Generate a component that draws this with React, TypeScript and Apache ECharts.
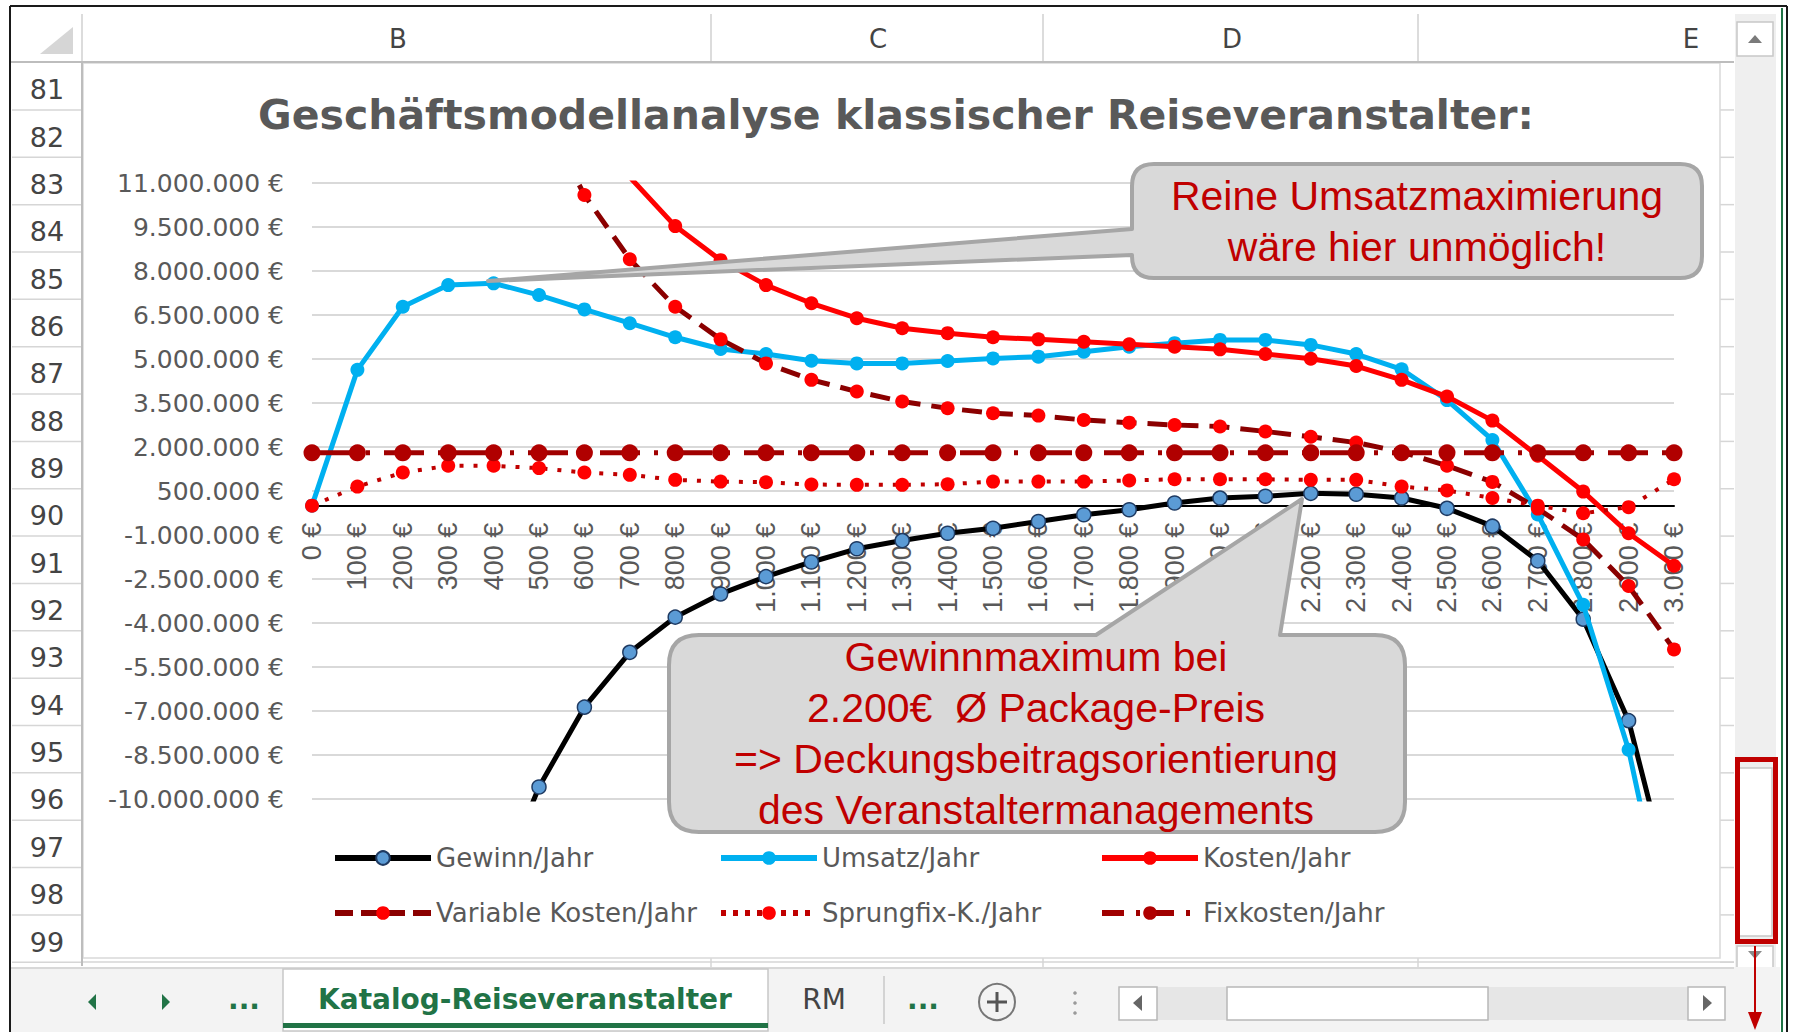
import React, { useEffect, useRef } from 'react';
import * as echarts from 'echarts';

// ---------- data ----------
const priceLabels = [
  '0 €', '100 €', '200 €', '300 €', '400 €', '500 €', '600 €', '700 €', '800 €', '900 €',
  '1.000 €', '1.100 €', '1.200 €', '1.300 €', '1.400 €', '1.500 €', '1.600 €', '1.700 €', '1.800 €', '1.900 €',
  '2.000 €', '2.100 €', '2.200 €', '2.300 €', '2.400 €', '2.500 €', '2.600 €', '2.700 €', '2.800 €', '2.900 €',
  '3.000 €',
];

const yTickValues = [
  -10000000, -8500000, -7000000, -5500000, -4000000, -2500000, -1000000, 500000,
  2000000, 3500000, 5000000, 6500000, 8000000, 9500000, 11000000,
];

const gewinn = [
  null, -41500000, -28100000, -19300000, -13400000, -9590000, -6870000, -5000000, -3800000, -3010000,
  -2420000, -1920000, -1470000, -1190000, -940000, -770000, -540000, -310000, -140000, 90000,
  260000, 320000, 420000, 390000, 260000, -90000, -700000, -1880000, -3870000, -7330000,
  -13400000,
];
const umsatz = [
  0, 4630000, 6780000, 7520000, 7580000, 7180000, 6690000, 6220000, 5740000, 5340000,
  5170000, 4940000, 4850000, 4850000, 4930000, 5020000, 5080000, 5250000, 5420000, 5540000,
  5650000, 5650000, 5480000, 5170000, 4650000, 3600000, 2240000, -300000, -3380000, -8320000,
  -15500000,
];
const kosten = [
  null, 46100000, 34900000, 26900000, 21100000, 16600000, 13660000, 11200000, 9530000, 8370000,
  7520000, 6900000, 6390000, 6050000, 5880000, 5740000, 5670000, 5590000, 5500000, 5420000,
  5330000, 5170000, 5010000, 4760000, 4290000, 3720000, 2900000, 1700000, 480000, -940000,
  -2050000,
];
const variableKosten = [
  null, 43700000, 32000000, 23700000, 17900000, 13600000, 10590000, 8400000, 6780000, 5670000,
  4850000, 4290000, 3890000, 3550000, 3320000, 3150000, 3070000, 2920000, 2830000, 2750000,
  2700000, 2530000, 2350000, 2150000, 1830000, 1360000, 810000, -100000, -1150000, -2740000,
  -4900000,
];
const sprungfixKosten = [
  0, 650000, 1130000, 1360000, 1360000, 1280000, 1130000, 1050000, 880000, 820000,
  800000, 720000, 710000, 710000, 730000, 820000, 820000, 820000, 860000, 900000,
  900000, 900000, 880000, 880000, 650000, 520000, 260000, 0, -260000, -50000,
  900000,
];
const fixkosten = [
  1800000, 1800000, 1800000, 1800000, 1800000, 1800000, 1800000, 1800000, 1800000, 1800000,
  1800000, 1800000, 1800000, 1800000, 1800000, 1800000, 1800000, 1800000, 1800000, 1800000,
  1800000, 1800000, 1800000, 1800000, 1800000, 1800000, 1800000, 1800000, 1800000, 1800000,
  1800000,
];

const seriesNames = [
  'Gewinn/Jahr', 'Umsatz/Jahr', 'Kosten/Jahr',
  'Variable Kosten/Jahr', 'Sprungfix-K./Jahr', 'Fixkosten/Jahr',
];
const seriesData = [gewinn, umsatz, kosten, variableKosten, sprungfixKosten, fixkosten];

const titleText = 'Geschäftsmodellanalyse klassischer Reiseveranstalter:';
const calloutTopLines = ['Reine Umsatzmaximierung', 'wäre hier unmöglich!'];
const calloutBottomLines = [
  'Gewinnmaximum bei',
  '2.200€  Ø Package-Preis',
  '=> Deckungsbeitragsorientierung',
  'des Veranstaltermanagements',
];
const rowNumbers = ['81', '82', '83', '84', '85', '86', '87', '88', '89', '90', '91', '92', '93', '94', '95', '96', '97', '98', '99'];
const columnLetters = ['B', 'C', 'D', 'E'];
const sheetTabs = ['Katalog-Reiseveranstalter', 'RM'];

// ---------- layout / styles ----------
const W = 1795;
const H = 1032;
const FONT = '"DejaVu Sans", sans-serif';
const AXIS_GRAY = '#595959';
const HEAD_GRAY = '#444444';
const CALLOUT_RED = '#c00000';
const EXCEL_GREEN = '#217346';

const GRID_TOP = 183;
const GRID_BOTTOM_Y = 799;
const Y_MIN = -10000000;
const Y_MAX = 11000000;
// move the category axis (line + labels) from the grid bottom up to the value 0
const ZERO_OFFSET = -((GRID_BOTTOM_Y - GRID_TOP) * (0 - Y_MIN)) / (Y_MAX - Y_MIN);

const seriesStyles: any[] = [
  { line: '#000000', dash: 'solid', width: 5, marker: '#5b9bd5', border: '#1f3b63', bw: 1.5, size: 14 },
  { line: '#00b0f0', dash: 'solid', width: 5, marker: '#00b0f0', border: '#00b0f0', bw: 0, size: 14 },
  { line: '#ff0000', dash: 'solid', width: 5, marker: '#ff0000', border: '#ff0000', bw: 0, size: 14 },
  { line: '#8b0000', dash: [20, 11], width: 5, marker: '#ff0000', border: '#ff0000', bw: 0, size: 14 },
  { line: '#c00000', dash: [4, 10], width: 4, marker: '#ff0000', border: '#ff0000', bw: 0, size: 14 },
  { line: '#a00000', dash: [40, 14, 4, 14], width: 5, marker: '#b00000', border: '#b00000', bw: 0, size: 17 },
];
const legendDash: any[] = ['solid', 'solid', 'solid', [18, 8], [5, 7], [22, 12, 4, 12]];

const legendColX = [332, 718, 1099];
const legendRowY = [845, 900];

const CALLOUT_TOP_D =
  'M 1154 164 L 1680 164 Q 1702 164 1702 186 L 1702 256 Q 1702 278 1680 278 L 1154 278 ' +
  'Q 1132 278 1132 256 L 1132 255 L 488 281 L 1132 229 L 1132 186 Q 1132 164 1154 164 Z';
const CALLOUT_BOTTOM_D =
  'M 699 635 L 1096 635 L 1302 499 L 1280 635 L 1375 635 Q 1405 635 1405 665 L 1405 802 ' +
  'Q 1405 832 1375 832 L 699 832 Q 669 832 669 802 L 669 665 Q 669 635 699 635 Z';

function formatEuro(v: number) {
  const s = Math.round(Math.abs(v)).toString().replace(/\B(?=(\d{3})+(?!\d))/g, '.');
  return (v < 0 ? '-' : '') + s + ' €';
}

function buildGraphics() {
  const g: any[] = [];
  const L = (x1: number, y1: number, x2: number, y2: number, stroke: string, lw = 1.5, z = -5) =>
    g.push({ type: 'line', z, silent: true, shape: { x1, y1, x2, y2 }, style: { stroke, lineWidth: lw } });
  const R = (x: number, y: number, w: number, h: number, fill: string, stroke = 'none', lw = 1.5, z = -5, r = 0) =>
    g.push({ type: 'rect', z, silent: true, shape: { x, y, width: w, height: h, r }, style: { fill, stroke, lineWidth: lw } });
  const P = (points: number[][], fill: string, z = -4) =>
    g.push({ type: 'polygon', z, silent: true, shape: { points }, style: { fill } });
  const T = (x: number, y: number, text: string, font: string, fill: string, z = -4, align = 'center') =>
    g.push({
      type: 'text', z, silent: true, x, y,
      style: { text, font, fill, align, verticalAlign: 'middle', textAlign: align, textVerticalAlign: 'middle' },
    });

  // sheet cells right of chart / below chart
  for (let j = 1; j <= 19; j++) {
    const y = 62.6 + 47.35 * j;
    L(12, y, 82, y, '#d6d6d6', 1.5);
    L(1720, y, 1734, y, '#d6d6d6', 1.5);
  }
  L(82, 962, 1734, 962, '#d6d6d6', 1.5);
  L(711, 956, 711, 967, '#d6d6d6', 1.5);
  L(1043, 956, 1043, 967, '#d6d6d6', 1.5);
  L(1418, 956, 1418, 967, '#d6d6d6', 1.5);

  // chart area
  R(83, 63, 1637, 895, '#ffffff', '#d9d9d9', 1.5, -5);

  // column header
  P([[73, 27], [73, 54], [40, 54]], '#d6d6d6');
  [82, 711, 1043, 1418].forEach((x) => L(x, 14, x, 62, '#d0d0d0', 1.5));
  L(10, 62, 1734, 62, '#bdbdbd', 2);
  const colX = [398, 878, 1232, 1691];
  columnLetters.forEach((c, i) => T(colX[i], 39, c, '26px ' + FONT, HEAD_GRAY));

  // row header
  L(82, 62, 82, 966, '#bdbdbd', 2);
  rowNumbers.forEach((r, j) => T(47, 89.7 + 47.35 * j, r, '27px ' + FONT, HEAD_GRAY));

  // vertical scrollbar
  R(1735, 14, 41, 955, '#efefef', 'none', 0);
  R(1737, 22, 36, 34, '#ffffff', '#c8c8c8', 1.5);
  P([[1748, 43], [1762, 43], [1755, 35]], '#7a7a7a');
  R(1739, 768, 33, 168, '#ffffff', '#c8c8c8', 1.5);
  R(1737, 946, 36, 24, '#ffffff', '#c8c8c8', 1.5);
  P([[1748, 951], [1762, 951], [1755, 959]], '#8a8a8a');
  R(1737.5, 759.5, 38, 182, 'none', CALLOUT_RED, 5, -3);
  L(1755, 946, 1755, 1016, CALLOUT_RED, 2, -3);
  P([[1748, 1012], [1762, 1012], [1755, 1030]], CALLOUT_RED, -3);

  // tab bar
  R(11, 967, 1769, 66, '#f3f3f3', 'none', 0);
  L(10, 968, 1734, 968, '#cfcfcf', 1.5);
  R(283, 969, 485, 62, '#ffffff', '#c8c8c8', 1.5);
  R(283, 1023, 485, 5, EXCEL_GREEN, 'none', 0);
  P([[88, 1002], [96, 994], [96, 1010]], EXCEL_GREEN);
  P([[170, 1002], [162, 994], [162, 1010]], EXCEL_GREEN);
  T(244, 999, '...', 'bold 28px ' + FONT, EXCEL_GREEN);
  T(525, 999, sheetTabs[0], 'bold 28px ' + FONT, EXCEL_GREEN);
  T(824, 999, sheetTabs[1], '28px ' + FONT, HEAD_GRAY);
  L(884, 976, 884, 1024, '#c8c8c8', 1.5);
  T(923, 999, '...', 'bold 28px ' + FONT, EXCEL_GREEN);
  g.push({ type: 'circle', z: -4, silent: true, shape: { cx: 997, cy: 1002, r: 18 }, style: { fill: '#f3f3f3', stroke: '#777777', lineWidth: 2 } });
  L(987, 1002, 1007, 1002, '#555555', 3, -3);
  L(997, 992, 997, 1012, '#555555', 3, -3);
  [993, 1003, 1013].forEach((y) =>
    g.push({ type: 'circle', z: -4, silent: true, shape: { cx: 1075, cy: y, r: 1.8 }, style: { fill: '#9a9a9a' } }));
  R(1119, 987, 606, 33, '#e6e6e6', 'none', 0);
  R(1119, 987, 38, 33, '#ffffff', '#b8b8b8', 1.5);
  P([[1133, 1003], [1142, 995], [1142, 1011]], '#666666');
  R(1227, 987, 261, 33, '#ffffff', '#b8b8b8', 1.5);
  R(1688, 987, 37, 33, '#ffffff', '#b8b8b8', 1.5);
  P([[1712, 1003], [1703, 995], [1703, 1011]], '#666666');

  // window border
  L(10, 6, 10, 1032, '#1a1a1a', 2, -2);
  L(10, 6, 1787, 6, '#1a1a1a', 2, -2);
  L(1787, 6, 1787, 1032, '#1a1a1a', 2, -2);
  L(1782, 8, 1782, 1032, EXCEL_GREEN, 2, -2);

  // chart title
  T(896, 115, titleText, 'bold 41px ' + FONT, AXIS_GRAY, 5);

  // callouts
  const calloutStyle = { fill: '#d9d9d9', stroke: '#a6a6a6', lineWidth: 4, lineJoin: 'round' };
  g.push({ type: 'calloutTop', z: 50, silent: true, shape: {}, style: calloutStyle });
  g.push({ type: 'calloutBottom', z: 50, silent: true, shape: {}, style: calloutStyle });
  const cFont = '41px "Liberation Sans", Arial, sans-serif';
  calloutTopLines.forEach((t, i) => T(1417, 196 + 51 * i, t, cFont, CALLOUT_RED, 51));
  calloutBottomLines.forEach((t, i) => T(1036, 657 + 51 * i, t, cFont, CALLOUT_RED, 51));

  return g;
}

function buildOption() {
  return {
    animation: false,
    textStyle: { fontFamily: FONT },
    grid: { left: 312, right: 121, top: GRID_TOP, bottom: H - GRID_BOTTOM_Y, containLabel: false, outerBoundsMode: 'none' },
    xAxis: {
      type: 'category',
      data: priceLabels,
      boundaryGap: false,
      position: 'bottom',
      offset: ZERO_OFFSET,
      axisLine: { onZero: false, lineStyle: { color: '#000000', width: 2 } },
      axisTick: { show: false },
      splitLine: { show: false },
      axisLabel: {
        rotate: 90,
        interval: 0,
        color: AXIS_GRAY,
        fontFamily: '"Liberation Sans Narrow", "Liberation Sans", sans-serif',
        fontSize: 27,
        margin: 17,
      },
    },
    yAxis: {
      type: 'value',
      min: Y_MIN,
      max: Y_MAX,
      axisLine: { show: false },
      axisTick: { show: false, customValues: yTickValues },
      axisLabel: {
        customValues: yTickValues,
        formatter: (v: number) => formatEuro(v),
        color: AXIS_GRAY,
        fontFamily: FONT,
        fontSize: 25,
        margin: 28,
      },
      splitLine: { show: true, lineStyle: { color: '#d9d9d9', width: 2 } },
    },
    legend: seriesNames.map((name, k) => ({
      data: [name],
      left: legendColX[k % 3],
      top: legendRowY[Math.floor(k / 3)],
      padding: 0,
      itemWidth: 96,
      itemHeight: 17,
      selectedMode: false,
      lineStyle: { width: 6, type: legendDash[k] },
      textStyle: { color: AXIS_GRAY, fontSize: 26, fontFamily: FONT },
    })),
    graphic: { elements: buildGraphics() },
    series: seriesNames.map((name, k) => {
      const s = seriesStyles[k];
      return {
        type: 'line',
        name,
        data: seriesData[k],
        symbol: 'circle',
        symbolSize: s.size,
        showAllSymbol: true,
        connectNulls: false,
        clip: true,
        z: 2 + k * 0.01,
        lineStyle: { color: s.line, width: s.width, type: s.dash, cap: 'butt' },
        itemStyle: { color: s.marker, borderColor: s.border, borderWidth: s.bw },
        emphasis: { disabled: true },
      };
    }),
  };
}

export default function App() {
  const ref = useRef<HTMLDivElement>(null);
  useEffect(() => {
    const el = ref.current;
    if (!el) return;
    echarts.graphic.registerShape('calloutTop', echarts.graphic.extendPath(CALLOUT_TOP_D, {}) as any);
    echarts.graphic.registerShape('calloutBottom', echarts.graphic.extendPath(CALLOUT_BOTTOM_D, {}) as any);
    const chart = echarts.init(el, null, { renderer: 'svg', width: W, height: H });
    chart.setOption(buildOption() as any);
    return () => chart.dispose();
  }, []);
  return (
    <div
      ref={ref}
      style={{ position: 'fixed', left: 0, top: 0, width: W, height: H, background: '#ffffff' }}
    />
  );
}
